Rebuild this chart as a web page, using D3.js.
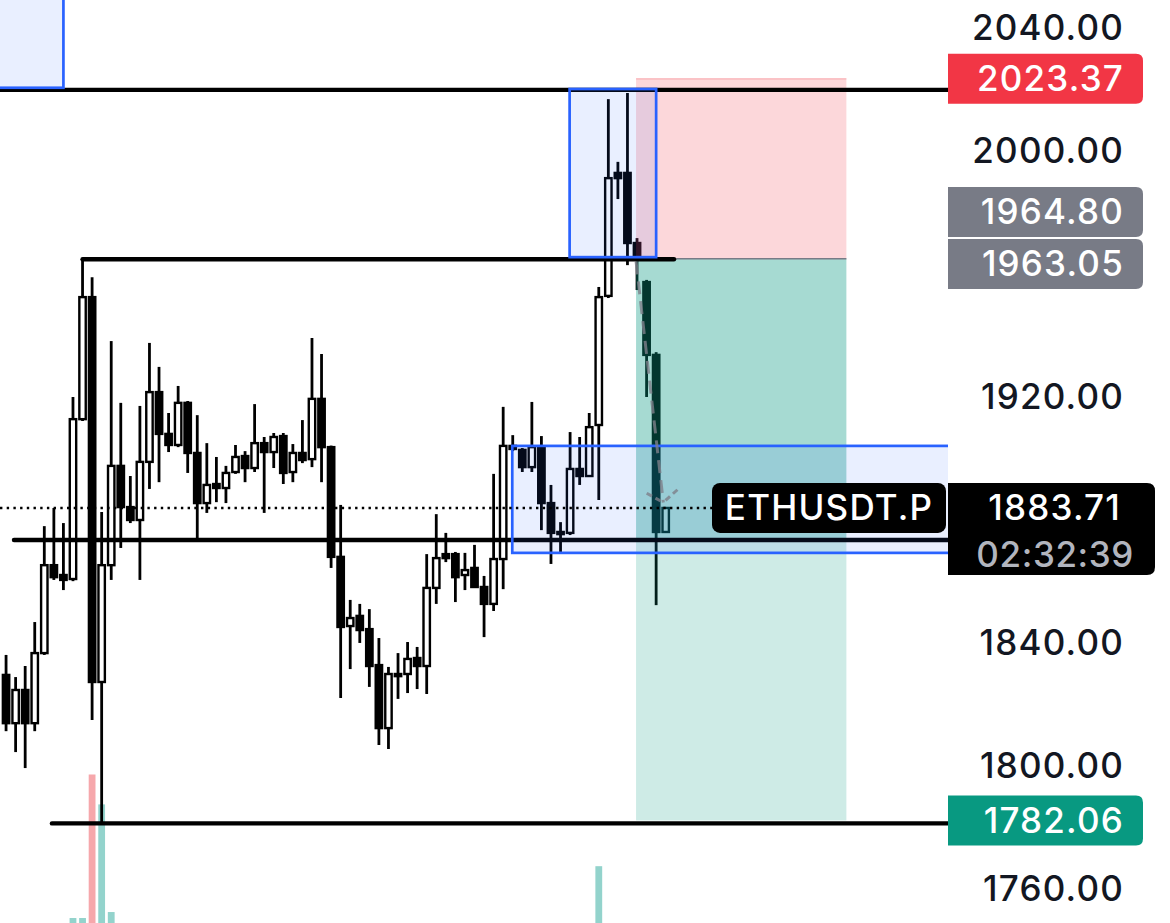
<!DOCTYPE html>
<html><head><meta charset="utf-8">
<script src="https://cdn.jsdelivr.net/npm/d3@7"></script>
<style>
html,body{margin:0;padding:0;background:#fff;overflow:hidden;}
svg{display:block;}
text{font-family:Inter,"Noto Sans",sans-serif;}
</style></head><body>
<svg id="chart" width="1170" height="923"></svg>
<script>
// ---- data (ETHUSDT.P candles, oldest first) ----
const opens = [1829.4,1813.7,1824.5,1813.7,1836.5,1865.1,1861.9,1860.6,1912.6,1952.3,
1827.1,1865.1,1897.4,1884.0,1879.8,1898.7,1921.4,1907.8,1904.2,1917.9,
1901.6,1885.3,1891.5,1890.2,1895.4,1900.6,1896.7,1904.8,1901.9,1907.1,
1895.4,1901.6,1899.6,1919.2,1903.5,1867.8,1845.3,1848.6,1844.3,1832.6,
1812.1,1829.0,1829.7,1834.9,1832.3,1857.7,1868.7,1868.7,1861.9,1864.2,
1858.0,1852.5,1867.1,1903.9,1902.6,1897.0,1903.5,1885.3,1875.2,1875.6,
1896.4,1894.1,1910.7,1952.7,1992.7,1992.7,1969.9,1957.2,1933.5,1875.9];
const highs = [1835.9,1828.7,1832.3,1846.6,1877.8,1883.7,1878.8,1919.8,1964.7,1958.8,
1882.4,1938.0,1917.9,1894.1,1916.9,1937.4,1929.6,1914.6,1923.4,1918.5,
1913.9,1904.8,1900.3,1897.4,1904.2,1902.2,1917.5,1906.8,1908.1,1908.1,
1904.5,1912.3,1939.0,1933.8,1904.0,1884.7,1853.8,1852.5,1850.8,1841.4,
1832.0,1836.5,1840.1,1838.5,1868.7,1881.7,1875.6,1869.4,1869.1,1871.7,
1861.6,1894.8,1916.6,1907.4,1903.2,1918.2,1907.1,1891.2,1879.1,1908.4,
1906.8,1914.6,1955.6,2016.7,1996.3,2018.7,1971.5,1957.9,1934.4,1884.0];
const lows = [1811.1,1804.3,1799.1,1811.1,1835.9,1860.3,1857.0,1859.9,1912.0,1814.7,
1781.2,1860.3,1870.7,1878.8,1860.3,1889.9,1892.1,1901.9,1903.5,1895.1,
1873.3,1882.1,1885.6,1885.3,1894.8,1892.1,1895.4,1882.1,1896.7,1891.5,
1892.1,1898.3,1897.0,1892.1,1864.2,1821.9,1831.3,1839.8,1825.5,1806.6,
1805.3,1821.6,1823.5,1824.8,1823.2,1852.5,1866.1,1853.1,1857.0,1857.7,
1841.7,1850.2,1857.3,1902.2,1895.4,1895.4,1876.5,1865.5,1869.4,1874.9,
1891.2,1893.8,1886.3,1952.0,1984.2,1962.7,1954.6,1919.8,1852.1,1875.6];
const closes = [1813.7,1824.5,1813.7,1836.5,1865.1,1861.2,1860.3,1912.6,1952.3,1827.1,
1865.1,1897.4,1884.0,1879.8,1898.7,1921.4,1907.8,1904.2,1917.9,1901.6,
1885.3,1891.2,1890.2,1895.1,1900.3,1896.7,1904.8,1901.9,1906.8,1895.1,
1901.6,1899.3,1919.2,1903.5,1867.8,1845.0,1847.9,1844.0,1832.3,1812.1,
1829.7,1829.7,1834.6,1832.3,1857.7,1867.4,1867.4,1861.2,1863.5,1858.0,
1852.5,1867.1,1903.9,1902.9,1897.0,1903.5,1885.3,1875.6,1875.9,1896.4,
1894.1,1910.0,1952.3,1991.0,1991.0,1969.9,1965.3,1933.5,1875.9,1883.71];
// visible volume bars: [bar index, volume (K)]
const volumeIdx = [7, 8, 9, 10, 11, 62];
const volumeVal = [0.5, 0.5, 14.9, 11.9, 1.1, 5.7];
const yTicks = [2040, 2000, 1920, 1840, 1800, 1760];
const symbol = "ETHUSDT.P";
const lastPrice = 1883.71;
const countdown = "02:32:39";
// position (short) tool
const entryPrice = 1964.80, stopPrice = 2023.37, targetPrice = 1782.06, reachedPrice = 1873.3;
const positionBars = [65.9, 87.9];
// horizontal levels
const levelPrices = [2019.7, 1964.6, 1873.3, 1781.1];
const levelFrom = [-3, 8, 0.83, 4.8];
const levelTo = [200, 69.87, 200, 200];
// rectangles: [fromBar, toBar, topPrice, bottomPrice]
const rectFrom = [-5, 58.95, 52.95];
const rectTo = [6.0, 68.0, 120];
const rectTop = [2070, 2020.0, 1903.9];
const rectBottom = [2020.4, 1965.3, 1869.1];
// projection path: [bar, price]
const projStart = [65.9, 1963.9], projEnd = [68.75, 1885.5];
const extraLabel = 1963.05;

// ---- drawing ----
const W = 1170, H = 923, plotRight = 948;
const svg = d3.select('#chart');
const x = d3.scaleLinear().domain([0, 69]).range([6.06, 665.7]);
const y = d3.scaleLinear().domain([1748.7, 2048.95]).range([923, 0]);
const vy = d3.scaleLinear().domain([0, 15]).range([923, 773.5]);

svg.append('defs').append('clipPath').attr('id','plot')
  .append('rect').attr('x',0).attr('y',0).attr('width',plotRight).attr('height',H);
const plot = svg.append('g').attr('clip-path','url(#plot)');

// volume
plot.append('g').selectAll('rect').data(volumeIdx).join('rect')
  .attr('x', (d)=>x(d)-3.4).attr('width',6.8)
  .attr('y', (d,k)=>vy(volumeVal[k])).attr('height',(d,k)=>vy(0)-vy(volumeVal[k]))
  .attr('fill', d => closes[d] >= opens[d] ? '#93d3cc' : '#f6a7ab');

// candles
const idx = d3.range(opens.length);
const cg = plot.append('g');
cg.selectAll('line').data(idx).join('line')
  .attr('x1', i=>x(i)).attr('x2', i=>x(i))
  .attr('y1', i=>y(highs[i])).attr('y2', i=>y(lows[i]))
  .attr('stroke','#000').attr('stroke-width',2.8);
cg.selectAll('rect').data(idx).join('rect')
  .attr('x', i=>x(i)-3.2).attr('width',6.4)
  .attr('y', i=>y(Math.max(opens[i],closes[i])))
  .attr('height', i=>Math.max(1, Math.abs(y(opens[i])-y(closes[i]))))
  .attr('fill', i=> closes[i] >= opens[i] ? '#fff' : '#000')
  .attr('stroke','#000').attr('stroke-width',2.4);

// position tool
const px0 = x(positionBars[0]), px1 = x(positionBars[1]);
plot.append('rect').attr('x',px0).attr('width',px1-px0)
  .attr('y',y(stopPrice)).attr('height',y(entryPrice)-y(stopPrice))
  .attr('fill','rgba(242,54,69,0.2)');
plot.append('line').attr('x1',px0).attr('x2',px1).attr('y1',y(stopPrice)).attr('y2',y(stopPrice))
  .attr('stroke','rgba(242,54,69,0.25)').attr('stroke-width',1.5);
plot.append('rect').attr('x',px0).attr('width',px1-px0)
  .attr('y',y(entryPrice)).attr('height',y(reachedPrice)-y(entryPrice))
  .attr('fill','rgba(8,153,129,0.36)');
plot.append('rect').attr('x',px0).attr('width',px1-px0)
  .attr('y',y(reachedPrice)).attr('height',y(targetPrice)-y(reachedPrice))
  .attr('fill','rgba(8,153,129,0.2)');
plot.append('line').attr('x1',px0).attr('x2',px1).attr('y1',y(entryPrice)).attr('y2',y(entryPrice))
  .attr('stroke','#787b86').attr('stroke-width',1.6);

// horizontal levels
plot.append('g').selectAll('line').data(levelPrices).join('line')
  .attr('x1',(d,k)=>x(levelFrom[k])).attr('x2',(d,k)=>x(levelTo[k]))
  .attr('y1',d=>y(d)).attr('y2',d=>y(d))
  .attr('stroke','#000').attr('stroke-width',4.4).attr('stroke-linecap','round');

// rectangles
plot.append('g').selectAll('rect').data(rectFrom).join('rect')
  .attr('x',(d,k)=>x(d)).attr('width',(d,k)=>x(rectTo[k])-x(d))
  .attr('y',(d,k)=>y(rectTop[k])).attr('height',(d,k)=>y(rectBottom[k])-y(rectTop[k]))
  .attr('fill','rgba(41,98,255,0.1)').attr('stroke','#2962ff').attr('stroke-width',2.7);

// last price dotted line
svg.append('line').attr('x1',0).attr('x2',712).attr('y1',y(lastPrice)).attr('y2',y(lastPrice))
  .attr('stroke','#000').attr('stroke-width',2.4).attr('stroke-dasharray','2.4,4.3');

// projection dashed line with arrow
const ax0 = x(projStart[0]), ay0 = y(projStart[1]), ax1 = x(projEnd[0]), ay1 = y(projEnd[1]);
const pg = svg.append('g').attr('stroke','rgba(125,128,138,0.8)').attr('stroke-width',3).attr('fill','none');
pg.append('line').attr('x1',ax0).attr('y1',ay0).attr('x2',ax1).attr('y2',ay1).attr('stroke-dasharray','13,7');
const back = Math.atan2(ay0-ay1, ax0-ax1);
[-0.95, 0.95].forEach(a => {
  const ang = back + a;
  pg.append('line')
    .attr('x1', ax1 + 3*Math.cos(ang)).attr('y1', ay1 + 3*Math.sin(ang))
    .attr('x2', ax1 + 19*Math.cos(ang)).attr('y2', ay1 + 19*Math.sin(ang))
    .attr('stroke-dasharray','6,4');
});

// y axis
const fs = 35, ls = '1.2px';
const axis = d3.axisRight(y).tickValues(yTicks).tickFormat(d3.format('.2f')).tickSize(0);
const ag = svg.append('g').attr('transform',`translate(${plotRight},0)`).call(axis);
ag.select('.domain').remove();
ag.selectAll('text').attr('x', 1124-plotRight).attr('text-anchor','end')
  .attr('dy','0.35em').style('font-size',fs+'px').style('font-weight',500).style('letter-spacing',ls)
  .attr('fill','#131722').style('font-family','Inter,"Noto Sans",sans-serif');

function boxPath(x0, y0, w, h, r) {
  return `M${x0},${y0}H${x0+w-r}Q${x0+w},${y0} ${x0+w},${y0+r}V${y0+h-r}Q${x0+w},${y0+h} ${x0+w-r},${y0+h}H${x0}Z`;
}
function priceLabel(cy, txt, fill) {
  const h = 50;
  svg.append('path').attr('d', boxPath(plotRight, cy-h/2, 195, h, 7)).attr('fill', fill);
  svg.append('text').attr('x',1124).attr('y',cy).attr('dy','0.35em').attr('text-anchor','end')
    .style('font-size',fs+'px').style('font-weight',500).style('letter-spacing',ls).attr('fill','#fff').text(txt);
}
priceLabel(y(stopPrice), d3.format('.2f')(stopPrice), '#f23645');
const yLow = y(extraLabel);
const yUp = Math.min(y(entryPrice), yLow - 52);
priceLabel(yUp, d3.format('.2f')(entryPrice), '#787b86');
priceLabel(yLow, d3.format('.2f')(extraLabel), '#787b86');
priceLabel(y(targetPrice), d3.format('.2f')(targetPrice), '#089981');

// last price + countdown label
const ly = y(lastPrice);
svg.append('path').attr('d', boxPath(plotRight, ly-25, 207, 92, 8)).attr('fill','#000');
svg.append('text').attr('x',1121).attr('y',ly).attr('dy','0.35em').attr('text-anchor','end')
  .style('font-size',fs+'px').style('font-weight',500).style('letter-spacing',ls).attr('fill','#fff').text(d3.format('.2f')(lastPrice));
svg.append('text').attr('x',1134).attr('y',ly+47).attr('dy','0.35em').attr('text-anchor','end')
  .style('font-size',fs+'px').style('font-weight',500).style('letter-spacing','0.6px').attr('fill','#b2b5be').text(countdown);
// symbol label
svg.append('rect').attr('x',712).attr('y',ly-25).attr('width',234).attr('height',50).attr('rx',8).attr('fill','#000');
svg.append('text').attr('x',829).attr('y',ly).attr('dy','0.35em').attr('text-anchor','middle')
  .style('font-size',fs+'px').style('font-weight',500).style('letter-spacing','1.2px').attr('fill','#fff').text(symbol);
</script>
</body></html>
